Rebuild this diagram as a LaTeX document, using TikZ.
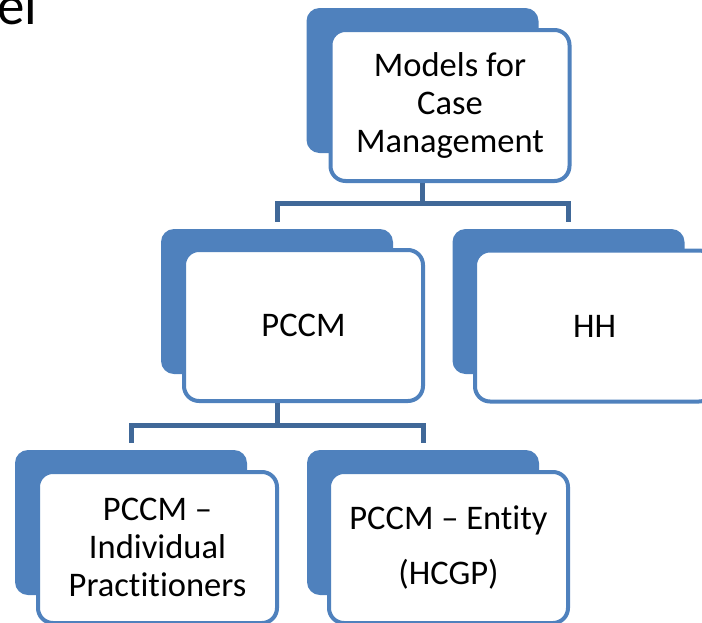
\documentclass[tikz,border=0pt]{standalone}
\usepackage{fontspec}
\setmainfont{Carlito}[Ligatures=NoCommon]
\usetikzlibrary{positioning}
\definecolor{OfficeBlue}{RGB}{79,129,189}
\definecolor{LinkBlue}{RGB}{64,104,152}
\tikzset{
  tab/.style={rectangle, rounded corners=13pt, fill=OfficeBlue, inner sep=0pt,
              minimum width=232pt, minimum height=145pt},
  card/.style={rectangle, rounded corners=15pt, draw=OfficeBlue, line width=4pt,
               fill=white, inner sep=0pt, text centered, align=center,
               minimum width=239pt, minimum height=151pt,
               font=\fontsize{34.5}{38}\selectfont},
  link/.style={draw=LinkBlue, line width=5pt},
}
\begin{document}
\begin{tikzpicture}[x=1pt, y=1pt]
        \useasboundingbox (0,0) rectangle (702,-622);
        \clip (0,0) rectangle (702,-622);
        \node[anchor=base west, inner sep=0pt, font=\fontsize{55}{60}\selectfont] (title) at (-3,-24) {el};

        % top level
        \node[tab] (toptab) at (422.5,-80.5) {};
        \node[card] (models) at (450,-105.5) {Models for\\Case\\Management};

        % second level
        \node[tab] (pccmtab) at (277,-301.5) {};
        \node[card] (pccm) at (303.5,-325.5) {PCCM};
        \node[tab] (hhtab) at (568.5,-301.5) {};
        \node[card] (hh) at (594.5,-326) {HH};

        % third level
        \node[tab] (indtab) at (131,-522.5) {};
        \node[card] (indiv) at (157.5,-547.5) {PCCM --\\Individual\\Practitioners};
        \node[tab] (enttab) at (423,-522.5) {};
        \node[card] (entity) at (448.5,-547.5) {PCCM -- Entity\\[17pt](HCGP)};

        \draw[link] (toptab.center |- models.south) -- ++(0,-20) -| ([yshift=7pt]pccmtab.north);
        \draw[link] (toptab.center |- models.south) -- ++(0,-20) -| ([yshift=7pt]hhtab.north);
        \draw[link] (pccmtab.center |- pccm.south) -- ++(0,-22) -| ([yshift=7pt]indtab.north);
        \draw[link] (pccmtab.center |- pccm.south) -- ++(0,-22) -| ([yshift=7pt]enttab.north);
      \end{tikzpicture}
\end{document}
